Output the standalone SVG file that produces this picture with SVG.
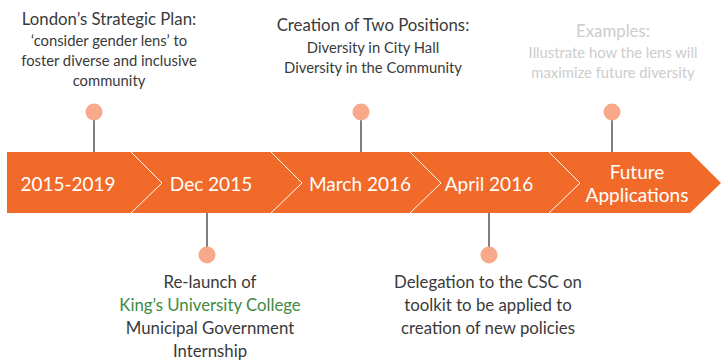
<svg xmlns="http://www.w3.org/2000/svg" width="726" height="362" viewBox="0 0 726 362">
<style>
text{font-family:Lato,"Open Sans","Liberation Sans",sans-serif;text-anchor:middle;font-weight:400}
.band{font-size:19px;fill:#ffffff}
.h{font-size:16.8px;fill:#3a3a3a}
.s{font-size:14.8px;fill:#3a3a3a}
.g{fill:#cccccc}
.dot{fill:#F7A98A}
.stem{stroke:#555555;stroke-width:1.5}
.chev{fill:none;stroke:#ffffff;stroke-width:1}
</style>
<rect width="726" height="362" fill="#ffffff"/>
<g id="connectors">
<line class="stem" x1="94" y1="112" x2="94" y2="152"/>
<line class="stem" x1="361" y1="112" x2="361" y2="152"/>
<line class="stem" x1="612" y1="112" x2="612" y2="152"/>
<line class="stem" x1="207" y1="213" x2="207" y2="255"/>
<line class="stem" x1="489" y1="213" x2="489" y2="255"/>
</g>
<g id="timeline">
<polygon points="7,152 690,152 721,183 690,213 7,213" fill="#F26A29"/>
<polyline class="chev" points="131,152 162,183 131,213"/>
<polyline class="chev" points="271,152 302,183 271,213"/>
<polyline class="chev" points="410,152 441,183 410,213"/>
<polyline class="chev" points="549,152 580,183 549,213"/>
</g>
<g id="seg1"><text class="band" x="68" y="191">2015-2019</text></g>
<g id="seg2"><text class="band" x="211" y="191">Dec 2015</text></g>
<g id="seg3"><text class="band" x="360" y="191">March 2016</text></g>
<g id="seg4"><text class="band" x="489" y="191">April 2016</text></g>
<g id="seg5"><text class="band" x="637" y="179">Future</text><text class="band" x="637" y="202">Applications</text></g>
<g id="event1">
<circle class="dot" cx="94" cy="112" r="8.5"/>
<text class="h" x="109" y="25">London’s Strategic Plan:</text>
<text class="s" x="109" y="46">‘consider gender lens’ to</text>
<text class="s" x="109" y="66">foster diverse and inclusive</text>
<text class="s" x="109" y="86">community</text>
</g>
<g id="event2">
<circle class="dot" cx="207" cy="255" r="8.5"/>
<text class="h" x="210" y="288">Re-launch of</text>
<text class="h" x="210" y="311" style="fill:#3E8A3E">King’s University College</text>
<text class="h" x="210" y="334">Municipal Government</text>
<text class="h" x="210" y="357">Internship</text>
</g>
<g id="event3">
<circle class="dot" cx="361" cy="112" r="8.5"/>
<text class="h" x="373" y="31">Creation of Two Positions:</text>
<text class="s" x="373" y="53">Diversity in City Hall</text>
<text class="s" x="373" y="73">Diversity in the Community</text>
</g>
<g id="event4">
<circle class="dot" cx="489" cy="255" r="8.5"/>
<text class="h" x="488" y="288">Delegation to the CSC on</text>
<text class="h" x="488" y="311">toolkit to be applied to</text>
<text class="h" x="488" y="334">creation of new policies</text>
</g>
<g id="event5">
<circle class="dot" cx="612" cy="112" r="8.5"/>
<text class="h g" x="613" y="37">Examples:</text>
<text class="s g" x="613" y="58">Illustrate how the lens will</text>
<text class="s g" x="613" y="78">maximize future diversity</text>
</g>
</svg>
